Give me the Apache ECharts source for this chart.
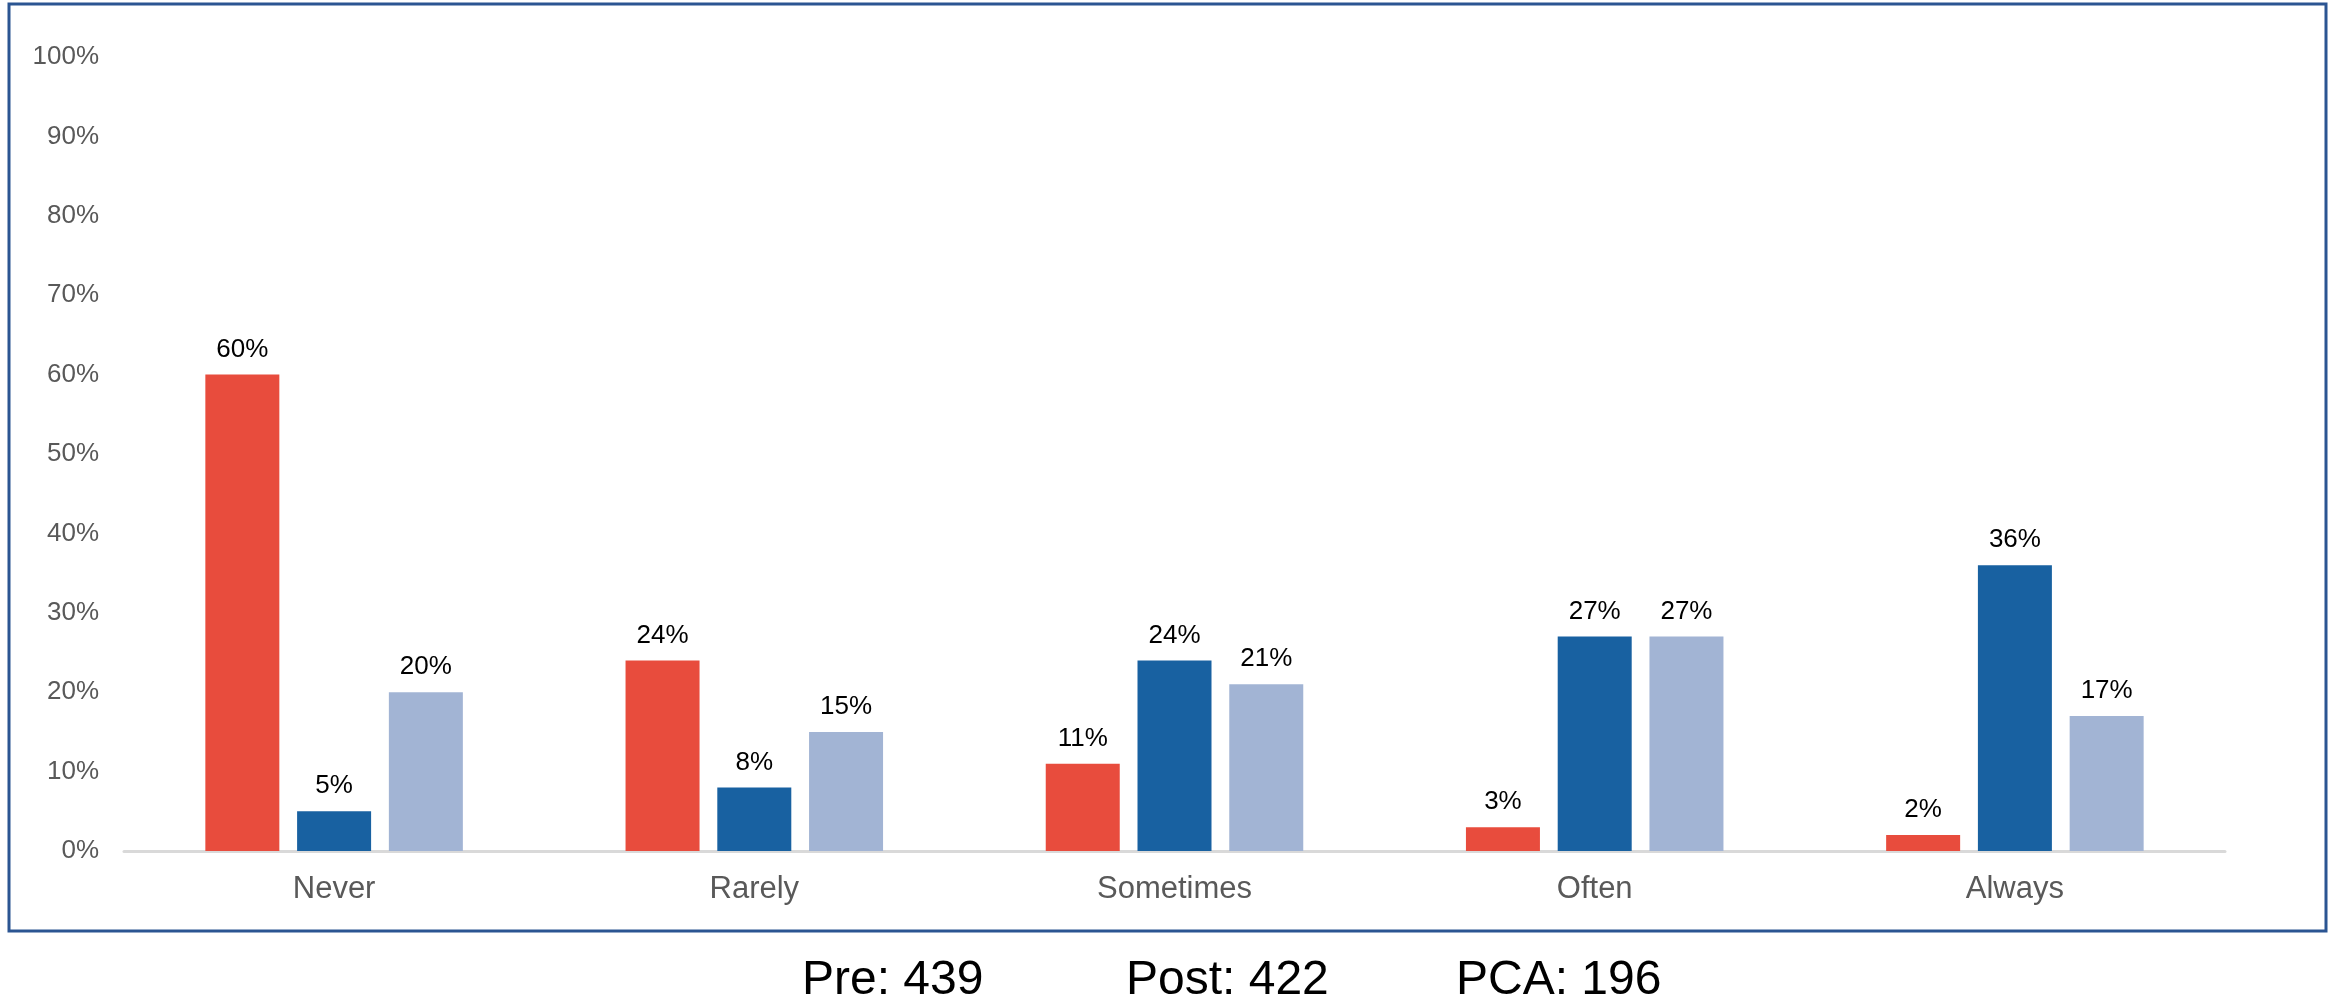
<!DOCTYPE html>
<html>
<head>
<meta charset="utf-8">
<style>
  html, body { margin: 0; padding: 0; background: #ffffff; }
  #chart { width: 2341px; height: 1004px; }
</style>
<script src="https://cdn.jsdelivr.net/npm/echarts@6/dist/echarts.min.js"></script>
</head>
<body>
<div id="chart"></div>
<script>
// Response frequency by group (percent of respondents)
const categories = ['Never', 'Rarely', 'Sometimes', 'Often', 'Always'];
const preValues  = [60, 24, 11, 3, 2];
const postValues = [5, 8, 24, 27, 36];
const pcaValues  = [20, 15, 21, 27, 17];
const yTicks = { min: 0, max: 100, interval: 10 };
const sampleSizes = [
  { label: 'Pre', n: 439 },
  { label: 'Post', n: 422 },
  { label: 'PCA', n: 196 }
];

const FONT = 'Liberation Sans, Arial, sans-serif';
const chart = echarts.init(document.getElementById('chart'), null, { renderer: 'canvas' });

const valueLabel = {
  show: true,
  position: 'top',
  distance: 12,
  formatter: p => p.value + '%',
  color: '#000000',
  fontFamily: FONT,
  fontSize: 26
};

function barSeries(name, data, color) {
  return {
    name,
    type: 'bar',
    data,
    barWidth: 74,
    barGap: '24%',
    itemStyle: { color },
    label: valueLabel,
    emphasis: { disabled: true }
  };
}

const footerX = [802, 1126, 1456];

chart.setOption({
  animation: false,
  backgroundColor: '#ffffff',
  grid: { left: 124, right: 116, top: 57, bottom: 153, containLabel: false },
  xAxis: {
    type: 'category',
    data: categories,
    axisLine: { show: true, lineStyle: { color: '#D9D9D9', width: 3 } },
    axisTick: { show: false },
    axisLabel: { color: '#595959', fontFamily: FONT, fontSize: 31, margin: 23 },
    splitLine: { show: false }
  },
  yAxis: {
    type: 'value',
    min: yTicks.min,
    max: yTicks.max,
    interval: yTicks.interval,
    axisLine: { show: false },
    axisTick: { show: false },
    splitLine: { show: false },
    axisLabel: {
      color: '#595959',
      fontFamily: FONT,
      fontSize: 26,
      margin: 25,
      formatter: v => v + '%'
    }
  },
  series: [
    barSeries('Pre', preValues, '#E84C3D'),
    barSeries('Post', postValues, '#1861A1'),
    barSeries('PCA', pcaValues, '#A2B4D4')
  ],
  graphic: [
    {
      type: 'rect',
      silent: true,
      z: 100,
      shape: { x: 9, y: 4, width: 2317, height: 927 },
      style: { fill: 'none', stroke: '#2B5592', lineWidth: 3 }
    },
    ...sampleSizes.map((s, i) => ({
      type: 'text',
      silent: true,
      left: footerX[i],
      top: 957,
      style: {
        text: s.label + ': ' + s.n,
        fill: '#000000',
        font: '48px ' + FONT
      }
    }))
  ]
});
</script>
</body>
</html>
